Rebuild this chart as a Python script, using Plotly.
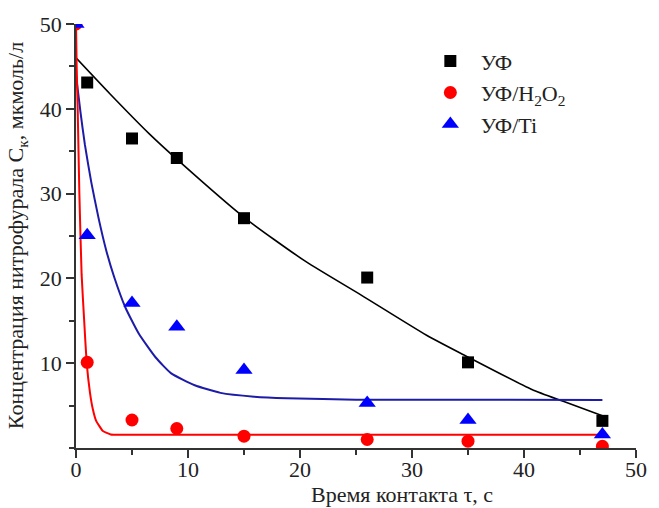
import plotly.graph_objects as go

# Measured data points
t_uf = [1, 5, 9, 15, 26, 35, 47]
c_uf = [43.1, 36.5, 34.2, 27.1, 20.1, 10.1, 3.2]

t_h2o2 = [0, 1, 5, 9, 15, 26, 35, 47]
c_h2o2 = [50, 10.1, 3.3, 2.3, 1.4, 1.0, 0.8, 0.2]

t_ti = [0, 1, 5, 9, 15, 26, 35, 47]
c_ti = [50, 25.1, 17.1, 14.3, 9.2, 5.3, 3.3, 1.6]

# Fitted curves
fit_uf_t = [0, 3, 6.5, 9.3, 15, 20.5, 25.5, 31.3, 34.6, 40.7, 43.5, 47]
fit_uf_c = [46.0, 41.8, 37.1, 33.7, 27.2, 22.0, 18.0, 13.3, 11.0, 6.9, 5.5, 3.8]

fit_h2o2_t = [0, 0.06, 0.15, 0.3, 0.5, 0.73, 0.95, 1.25, 1.5, 1.8, 2.4, 3.1, 4.0, 47]
fit_h2o2_c = [50, 45, 40, 30, 20.5, 15, 10.1, 6.5, 4.6, 3.2, 2.0, 1.6, 1.55, 1.55]

fit_ti_t = [0, 0.4, 0.79, 1.37, 2.0, 2.7, 3.4, 4.4, 5.6, 7.1, 8.5, 10.6, 12.9, 15.9, 18.8, 25, 47]
fit_ti_c = [44.0, 39.6, 35.8, 31.3, 27.2, 23.3, 20.2, 16.6, 13.5, 10.7, 8.8, 7.4, 6.5, 6.05, 5.86, 5.7, 5.66]

labels = ["УФ", "УФ/H<sub>2</sub>O<sub>2</sub>", "УФ/Ti"]
x_title = "Время контакта τ, с"
y_title = "Концентрация нитрофурала С<sub>к</sub>, мкмоль/л"

FONT = "Liberation Serif"

fig = go.Figure()

# fit lines
fig.add_trace(go.Scatter(x=fit_uf_t, y=fit_uf_c, mode="lines", line=dict(color="#000000", width=1.6, shape="spline", smoothing=0.6), showlegend=False, hoverinfo="skip"))
fig.add_trace(go.Scatter(x=fit_ti_t, y=fit_ti_c, mode="lines", line=dict(color="#1c1ca8", width=2, shape="spline", smoothing=0.5), showlegend=False, hoverinfo="skip"))
fig.add_trace(go.Scatter(x=fit_h2o2_t, y=fit_h2o2_c, mode="lines", line=dict(color="#ff0000", width=2, shape="spline", smoothing=0.4), showlegend=False, hoverinfo="skip"))

# markers
fig.add_trace(go.Scatter(x=t_uf, y=c_uf, mode="markers", name=labels[0],
                         marker=dict(symbol="square", size=12, color="#000000")))
fig.add_trace(go.Scatter(x=t_h2o2, y=c_h2o2, mode="markers", name=labels[1],
                         marker=dict(symbol="circle", size=13, color="#ff0000")))
fig.add_trace(go.Scatter(x=t_ti, y=c_ti, mode="markers", name=labels[2],
                         marker=dict(symbol="triangle-up", size=15, color="#0000ff")))

axis_common = dict(
    showline=True, linecolor="#333333", linewidth=1.5,
    ticks="outside", ticklen=8, tickwidth=1.5, tickcolor="#333333",
    showgrid=False, zeroline=False,
    tickfont=dict(family=FONT, size=22, color="#222222"),
    minor=dict(ticks="outside", ticklen=5, tickwidth=1.5, tickcolor="#333333", dtick=5, showgrid=False),
)

fig.update_xaxes(range=[0, 50], tickvals=[0, 10, 20, 30, 40, 50], ticklabelstandoff=-7, **axis_common)
fig.update_yaxes(range=[0, 50], tickvals=[10, 20, 30, 40, 50], **axis_common)

fig.add_annotation(text=x_title, xref="paper", yref="paper",
                   x=0.582, y=-0.1415, xanchor="center", yanchor="bottom", showarrow=False,
                   borderpad=0, font=dict(family=FONT, size=22, color="#222222"))
fig.add_annotation(text=y_title, xref="paper", yref="paper", textangle=-90,
                   x=-0.105, y=0.50, xanchor="center", yanchor="middle", showarrow=False,
                   borderpad=0, font=dict(family=FONT, size=22, color="#222222"))

fig.update_layout(
    width=659, height=508,
    margin=dict(l=76, r=13, t=24, b=60),
    paper_bgcolor="white", plot_bgcolor="white",
    font=dict(family=FONT, color="#222222"),
    legend=dict(x=0.614, y=0.962, xanchor="left", yanchor="top",
                font=dict(family=FONT, size=22, color="#222222"),
                bgcolor="rgba(0,0,0,0)", itemwidth=51),
)

fig.write_html("out.html")
